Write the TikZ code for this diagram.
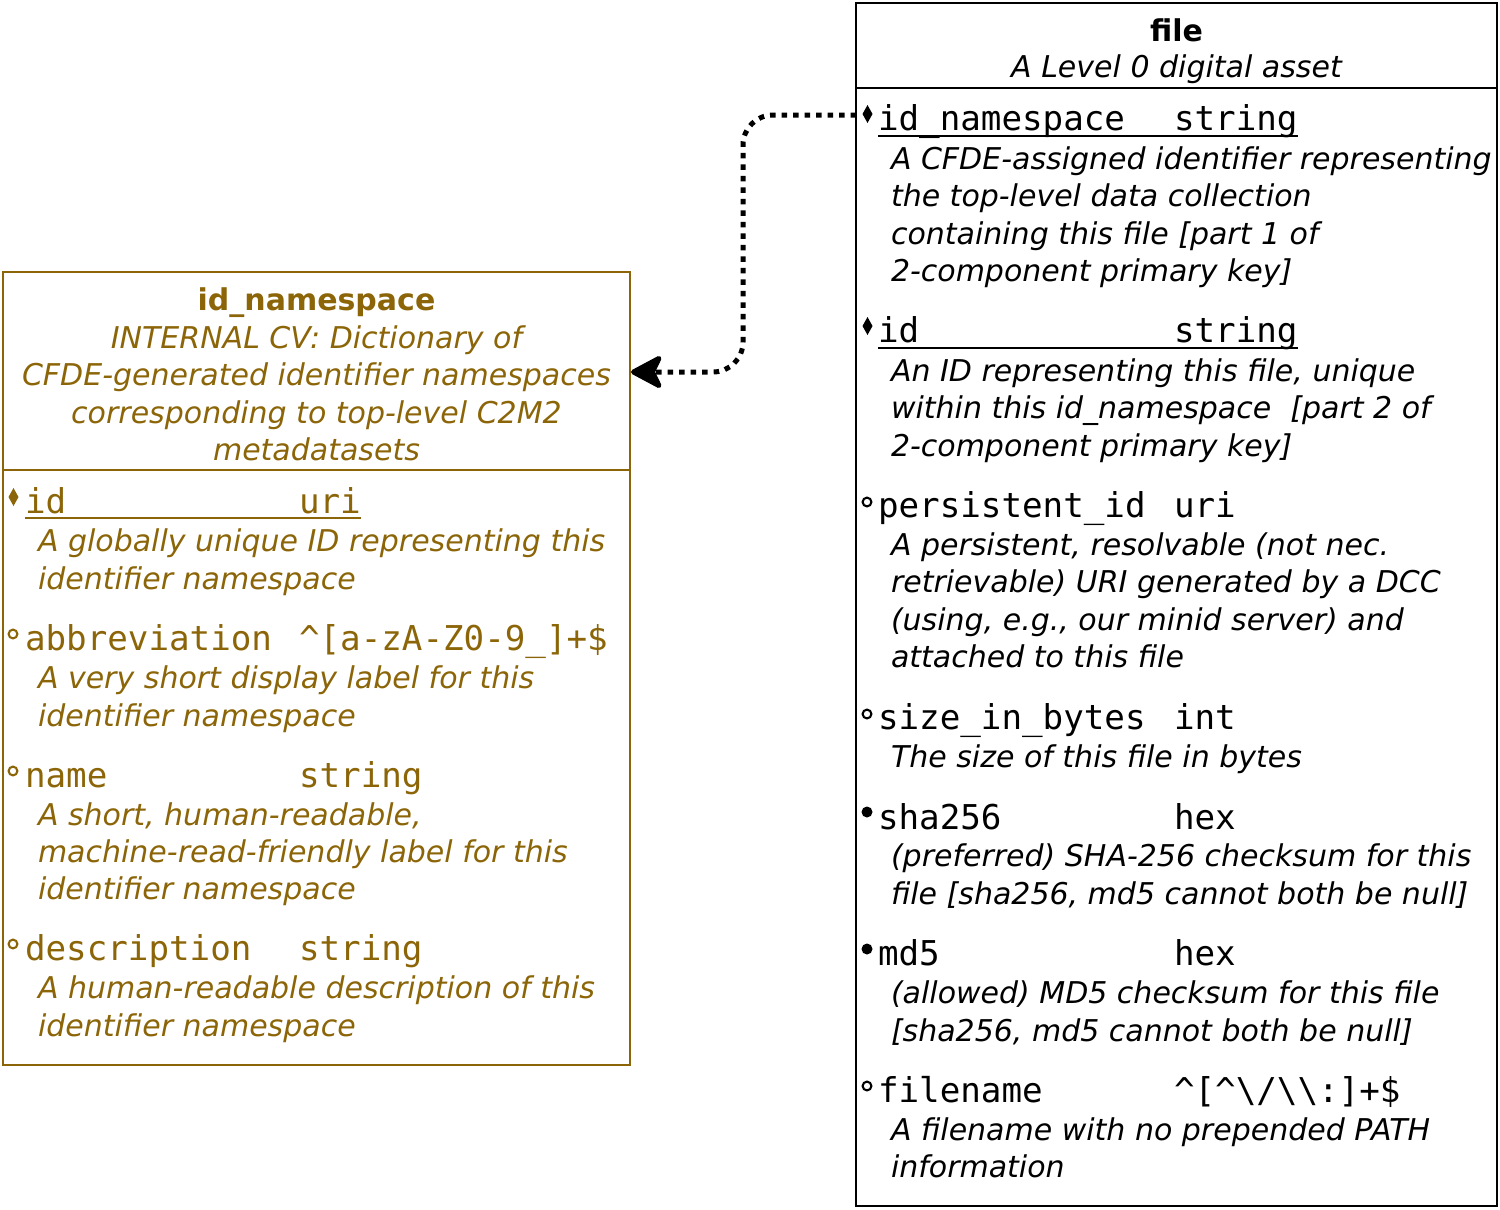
\documentclass[tikz,border=0pt]{standalone}
\usepackage{fontspec}
\setmainfont{DejaVu Sans}
\newfontfamily\monof{DejaVu Sans Mono}
\usetikzlibrary{arrows.meta}
\definecolor{gold}{RGB}{139,101,8}
\newcommand\dscf{\itshape\fontsize{30}{37.5}\selectfont}
\newcommand\monfz{\monof\fontsize{34.2}{40}\selectfont}
\newcommand\keymk[2]{\coordinate (#1) at (#2); \fill (#1) ++(0,-9) -- ++(5,9) -- ++(-5,9) -- ++(-5,-9) -- cycle;}
\newcommand\optmk[2]{\coordinate (#1) at (#2); \draw[line width=2.1pt] (#1) circle[radius=4.4pt];}
\newcommand\reqmk[2]{\coordinate (#1) at (#2); \fill (#1) circle[radius=5.5pt];}
\tikzset{
  desc/.style={anchor=base west, inner sep=0pt, outer sep=0pt, font=\dscf},
  hdesc/.style={anchor=base, inner sep=0pt, outer sep=0pt, font=\dscf},
  ttl/.style={anchor=base, inner sep=0pt, outer sep=0pt, font=\bfseries\fontsize{30}{37.5}\selectfont},
  fld/.style={anchor=base west, inner sep=0pt, outer sep=0pt, font=\monfz},
  boxnode/.style={draw, anchor=north west, inner sep=0pt, outer sep=0pt},
  uline/.style={line width=2pt},
  fkline/.style={line width=5pt, dash pattern=on 5.5pt off 6pt, rounded corners=30pt},
}
\begin{document}
\begin{tikzpicture}[x=1pt,y=-1pt]
\useasboundingbox (0,0) rectangle (1500,1210);
% ---------- id_namespace box ----------
\begin{scope}[gold, text=gold]
\node[boxnode, line width=2pt, minimum width=627pt, minimum height=793pt] (idns) at (3,272) {};
\draw[line width=2pt] (3,470) coordinate (idnsdl) -- (630,470) coordinate (idnsdr);
\node[ttl] (idnsT) at (316.5,310) {id\_namespace};
\node[hdesc] (idnsH1) at (316.5,348) {INTERNAL CV: Dictionary of};
\node[hdesc] (idnsH2) at (316.5,385) {CFDE-generated identifier namespaces};
\node[hdesc] (idnsH3) at (316.5,423) {corresponding to top-level C2M2};
\node[hdesc] (idnsH4) at (316.5,460) {metadatasets};
% id
\keymk{lm1}{13.5,497}
\node[fld] (lf1) at (25,513) {id};
\node[fld] (lt1) at (299,513) {uri};
\draw[uline] (lf1.base west) ++(0,5) -- ([yshift=-5pt]lt1.base east);
\node[desc] (ld1a) at (38,551) {A globally unique ID representing this};
\node[desc] (ld1b) at (38,589) {identifier namespace};
% abbreviation
\optmk{lm2}{13,634}
\node[fld] (lf2) at (25,650) {abbreviation};
\node[fld] (lt2) at (299,650) {\textasciicircum[a-zA-Z0-9\_]+\$};
\node[desc] (ld2a) at (38,688) {A very short display label for this};
\node[desc] (ld2b) at (38,726) {identifier namespace};
% name
\optmk{lm3}{13,771}
\node[fld] (lf3) at (25,787) {name};
\node[fld] (lt3) at (299,787) {string};
\node[desc] (ld3a) at (38,825) {A short, human-readable,};
\node[desc] (ld3b) at (38,862) {machine-read-friendly label for this};
\node[desc] (ld3c) at (38,899) {identifier namespace};
% description
\optmk{lm4}{13,944}
\node[fld] (lf4) at (25,960) {description};
\node[fld] (lt4) at (299,960) {string};
\node[desc] (ld4a) at (38,998) {A human-readable description of this};
\node[desc] (ld4b) at (38,1036) {identifier namespace};
\end{scope}
% ---------- file box ----------
\node[boxnode, line width=2.5pt, minimum width=641pt, minimum height=1203pt] (file) at (856,3) {};
\draw[line width=2.5pt] (856,88) coordinate (filedl) -- (1497,88) coordinate (filedr);
\node[ttl] (fileT) at (1176.5,41) {file};
\node[hdesc] (fileH1) at (1176.5,77) {A Level 0 digital asset};
% id_namespace
\keymk{rm1}{867.5,114}
\node[fld] (rf1) at (878,130) {id\_namespace};
\node[fld] (rt1) at (1174,130) {string};
\draw[uline] (rf1.base west) ++(0,5.5) -- ([yshift=-5.5pt]rt1.base east);
\node[desc] (rd1a) at (891,169) {A CFDE-assigned identifier representing};
\node[desc] (rd1b) at (891,206) {the top-level data collection};
\node[desc] (rd1c) at (891,244) {containing this file [part 1 of};
\node[desc] (rd1d) at (891,281) {2-component primary key]};
% id
\keymk{rm2}{867.5,326}
\node[fld] (rf2) at (878,342) {id};
\node[fld] (rt2) at (1174,342) {string};
\draw[uline] (rf2.base west) ++(0,5.5) -- ([yshift=-5.5pt]rt2.base east);
\node[desc] (rd2a) at (891,381) {An ID representing this file, unique};
\node[desc] (rd2b) at (891,418) {within this id\_namespace\ \ [part 2 of};
\node[desc] (rd2c) at (891,456) {2-component primary key]};
% persistent_id
\optmk{rm3}{867,502}
\node[fld] (rf3) at (878,517) {persistent\_id};
\node[fld] (rt3) at (1174,517) {uri};
\node[desc] (rd3a) at (891,555) {A persistent, resolvable (not nec.};
\node[desc] (rd3b) at (891,592) {retrievable) URI generated by a DCC};
\node[desc] (rd3c) at (891,630) {(using, e.g., our minid server) and};
\node[desc] (rd3d) at (891,667) {attached to this file};
% size_in_bytes
\optmk{rm4}{867,714}
\node[fld] (rf4) at (878,729) {size\_in\_bytes};
\node[fld] (rt4) at (1174,729) {int};
\node[desc] (rd4a) at (891,767) {The size of this file in bytes};
% sha256
\reqmk{rm5}{867,812}
\node[fld] (rf5) at (878,829) {sha256};
\node[fld] (rt5) at (1174,829) {hex};
\node[desc] (rd5a) at (891,866) {(preferred) SHA-256 checksum for this};
\node[desc] (rd5b) at (891,904) {file [sha256, md5 cannot both be null]};
% md5
\reqmk{rm6}{867,949}
\node[fld] (rf6) at (878,965) {md5};
\node[fld] (rt6) at (1174,965) {hex};
\node[desc] (rd6a) at (891,1003) {(allowed) MD5 checksum for this file};
\node[desc] (rd6b) at (891,1041) {[sha256, md5 cannot both be null]};
% filename
\optmk{rm7}{867,1086}
\node[fld] (rf7) at (878,1102) {filename};
\node[fld] (rt7) at (1174,1102) {\textasciicircum[\textasciicircum\textbackslash/\textbackslash\textbackslash:]+\$};
\node[desc] (rd7a) at (891,1140) {A filename with no prepended PATH};
\node[desc] (rd7b) at (891,1177) {information};
% ---------- foreign key connector ----------
\coordinate (src) at (856,115);
\coordinate (dst) at (631,372);
\draw[fkline, -{Stealth[length=36pt,width=38pt,inset=9pt,round=false]}] (src) -- (743,115) -- (743,372) -- (dst);
\end{tikzpicture}
\end{document}
